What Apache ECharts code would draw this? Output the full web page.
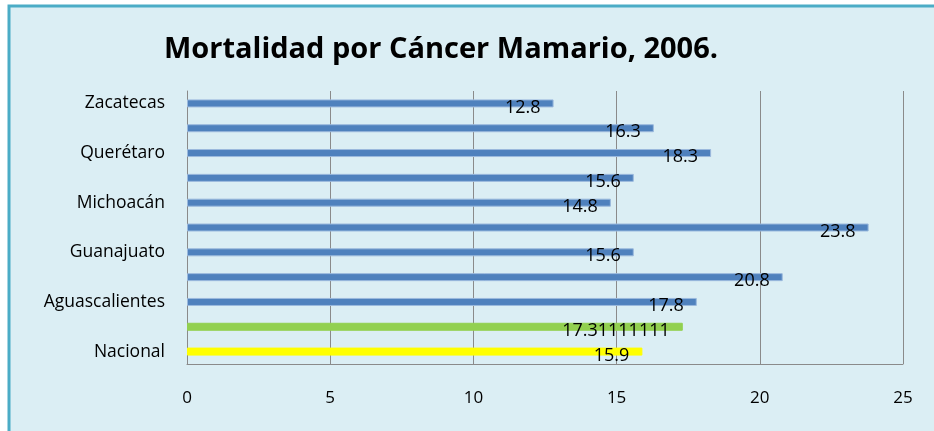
<!DOCTYPE html>
<html>
<head>
<meta charset="utf-8">
<script src="https://cdn.jsdelivr.net/npm/echarts@6/dist/echarts.min.js"></script>
<style>
  html, body { margin: 0; padding: 0; background: #fff; }
  #chart { width: 934px; height: 431px; }
</style>
</head>
<body>
<div id="chart"></div>
<script>
// bottom to top, as in the reference
const categories = ['Nacional', 'Región Centro Occidente', 'Aguascalientes', 'Colima', 'Guanajuato', 'Jalisco',
  'Michoacán', 'Nayarit', 'Querétaro', 'San Luis Potosí', 'Zacatecas']
const values = [15.9, 17.31111111, 17.8, 20.8, 15.6, 23.8, 14.8, 15.6, 18.3, 16.3, 12.8]
const xTicks = [0, 5, 10, 15, 20, 25]

const font = 'Open Sans'
const blue = '#4f81bd'

function barColor(i) {
  if (i === 0) return '#ffff00'
  if (i === 1) return '#92d050'
  return blue
}

const chart = echarts.init(document.getElementById('chart'))
chart.setOption({
  animation: false,
  backgroundColor: '#fff',
  graphic: [{
    type: 'rect',
    z: -10,
    shape: { x: 9, y: 6, width: 1200, height: 1200 },
    style: { fill: '#dbeef4' }
  }, {
    type: 'polyline',
    z: -9,
    shape: { points: [[9, 440], [9, 6], [940, 6]] },
    style: { fill: null, stroke: '#4bacc6', lineWidth: 3 }
  }],
  title: {
    text: 'Mortalidad por Cáncer Mamario, 2006.',
    left: 436,
    textAlign: 'center',
    top: 30,
    textStyle: { fontFamily: font, fontSize: 29, fontWeight: 'bold', color: '#000' }
  },
  grid: { left: 187, right: 31, top: 91, bottom: 67 },
  xAxis: {
    type: 'value',
    min: xTicks[0],
    max: xTicks[xTicks.length - 1],
    interval: 5,
    axisLine: { show: true, lineStyle: { color: '#8a8a8a' } },
    axisTick: { show: false },
    axisLabel: { margin: 26, fontFamily: font, fontSize: 17, color: '#000' },
    splitLine: { lineStyle: { color: '#8a8a8a' } }
  },
  yAxis: {
    type: 'category',
    data: categories,
    axisLine: { show: true, lineStyle: { color: '#8a8a8a' } },
    axisTick: { show: false },
    axisLabel: { interval: 1, margin: 22, fontFamily: font, fontSize: 17.5, color: '#000' }
  },
  series: [{
    type: 'bar',
    barWidth: 8,
    data: values.map((v, i) => ({
      value: v,
      itemStyle: { color: barColor(i), borderColor: i > 1 ? '#9bb9dd' : barColor(i), borderWidth: 1 }
    })),
    label: {
      show: true,
      position: 'insideRight',
      distance: 13,
      offset: [0, 4],
      fontFamily: font,
      fontSize: 18,
      color: '#000'
    }
  }]
})
</script>
</body>
</html>
